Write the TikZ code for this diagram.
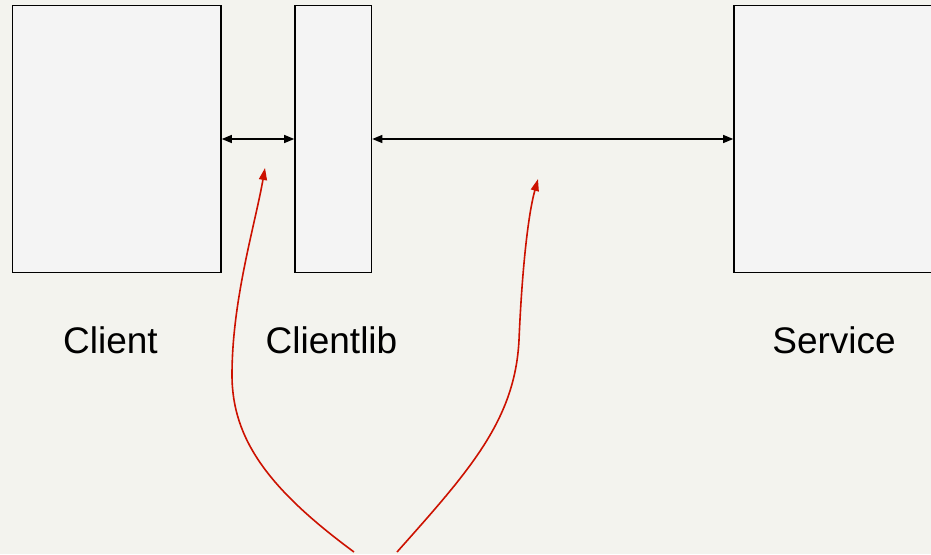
\documentclass[tikz,border=0pt]{standalone}
\usepackage{fontspec}
\setmainfont{Liberation Sans}
\usetikzlibrary{arrows.meta}
\definecolor{pagebg}{HTML}{F3F3EE}
\definecolor{boxfill}{HTML}{F4F4F4}
\definecolor{linkred}{HTML}{CC1100}
\tikzset{
  block/.style={draw=black, line width=1.6pt, fill=boxfill, inner sep=0pt, minimum height=267pt},
  label/.style={anchor=base, inner sep=0pt, font=\fontsize{37}{44}\selectfont},
  link/.style={line width=1.2pt, {Triangle[length=10pt,width=8pt]}-{Triangle[length=10pt,width=8pt]}},
  pointer/.style={draw=linkred, line width=1.6pt, -{Triangle[length=12pt,width=8pt]}, linkred}
}
\begin{document}
\begin{tikzpicture}[x=1pt,y=-1pt]
  \useasboundingbox (0,0) rectangle (931,554);
  \fill[pagebg] (0,0) rectangle (931,554);
  \clip (0,0) rectangle (931,554);

  % the three components
  \node[block, minimum width=208.5pt] (client)    at (116.75,139) {};
  \node[block, minimum width=76.5pt]  (clientlib) at (333.25,139) {};
  \node[block, minimum width=240pt]   (service)   at (854,139) {};

  % captions
  \node[label] (clientlabel)    at (110.5,353) {Client};
  \node[label] (clientliblabel) at (331.5,353) {Clientlib};
  \node[label] (servicelabel)   at (834,353)   {Service};

  % connections between components
  \draw[link] (client.east) -- (clientlib.west);
  \draw[link] (clientlib.east) -- (service.west);

  % red pointers from below
  \coordinate (lstart) at (354,552);
  \coordinate (lmid)   at (232,375);
  \coordinate (ltip)   at (265,168);
  \coordinate (rstart) at (397,552);
  \coordinate (rmid)   at (519,340);
  \coordinate (rtip)   at (538,179);

  \draw[pointer] (lstart) .. controls (270,490) and (232,440) .. (lmid)
                          .. controls (232,300) and (255,225) .. (ltip);
  \draw[pointer] (rstart) .. controls (470,470) and (515,420) .. (rmid)
                          .. controls (522,270) and (528,215) .. (rtip);
\end{tikzpicture}
\end{document}
